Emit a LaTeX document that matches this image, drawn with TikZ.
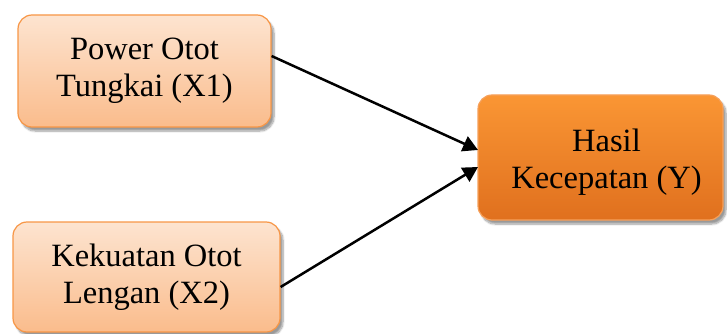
\documentclass[tikz,border=0pt]{standalone}
\usepackage{fontspec}
\setmainfont{Liberation Serif}
\usetikzlibrary{arrows.meta,shadows.blur}
\definecolor{peachtop}{RGB}{253,228,208}
\definecolor{peachbot}{RGB}{250,188,140}
\definecolor{peachline}{RGB}{247,150,70}
\definecolor{deeptop}{RGB}{250,150,52}
\definecolor{deepbot}{RGB}{224,112,30}
\definecolor{deepline}{RGB}{246,160,90}
\tikzset{
  varbox/.style={rounded corners=14pt, line width=1.2pt, align=center,
    font=\fontsize{32.5}{37}\selectfont, inner sep=0pt,
    blur shadow={shadow xshift=3pt, shadow yshift=-4pt, shadow blur steps=8, shadow opacity=40}},
  lightbox/.style={varbox, draw=peachline, top color=peachtop, bottom color=peachbot},
  darkbox/.style={varbox, draw=deepline, top color=deeptop, bottom color=deepbot},
  link/.style={line width=2.5pt, -{Triangle[length=15pt,width=16pt]}}
}
\begin{document}
\begin{tikzpicture}[x=1pt,y=-1pt]
\useasboundingbox (0,0) rectangle (727,334);
\begin{scope}
\clip (0,0) rectangle (727,334);
\node[lightbox, minimum width=253pt, minimum height=112pt] (x1) at (144.5,71) {Power Otot\\Tungkai (X1)};
\node[lightbox, minimum width=267pt, minimum height=110pt] (x2) at (146.5,277) {Kekuatan Otot\\Lengan (X2)};
\node[darkbox, minimum width=245pt, minimum height=125pt] (y) at (600.5,157.5)
  {\hspace*{12pt}\rule{0pt}{31pt}Hasil\\\hspace*{12pt}Kecepatan (Y)};
\end{scope}
\coordinate (t1) at (478,150);
\coordinate (t2) at (478,167);
\draw[link] (x1.east |- 0,56) -- (t1);
\draw[link] (x2.east |- 0,287) -- (t2);
\end{tikzpicture}
\end{document}
